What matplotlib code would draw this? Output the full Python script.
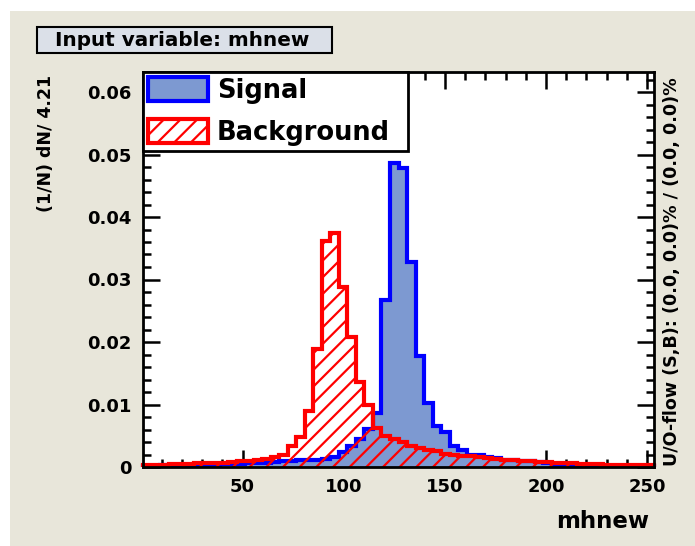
import numpy as np
import matplotlib.pyplot as plt
from matplotlib.patches import Patch, Rectangle

plt.rcParams['font.family'] = ['DejaVu Sans']
plt.rcParams['font.weight'] = 'bold'
plt.rcParams['hatch.linewidth'] = 1.6

# histogram binning (60 bins of width 4.21)
x_min = 0.8
bin_width = 4.21
n_bins = 60
edges = x_min + bin_width * np.arange(n_bins + 1)

signal = [
    0.0002, 0.0002, 0.0003, 0.0003, 0.0003, 0.0003, 0.0004, 0.0004, 0.0004, 0.0005,
    0.0005, 0.0005, 0.0006, 0.0006, 0.0007, 0.0008, 0.0009, 0.0010, 0.0011, 0.0011,
    0.0012, 0.0013, 0.0016, 0.0024, 0.0034, 0.0045, 0.0061, 0.0087, 0.0268, 0.0486,
    0.0479, 0.0328, 0.0178, 0.0102, 0.0065, 0.0056, 0.0034, 0.0027, 0.0020, 0.0019,
    0.0016, 0.0014, 0.0012, 0.0011, 0.0010, 0.0009, 0.0008, 0.0006, 0.0002, 0.0002,
    0.0001, 0.0001, 0.0002, 0.0001, 0.0001, 0.0002, 0.0001, 0.0001, 0.0002, 0.0001,
]

background = [
    0.0004, 0.0004, 0.0004, 0.0005, 0.0005, 0.0005, 0.0006, 0.0006, 0.0007, 0.0007,
    0.0008, 0.0009, 0.0010, 0.0011, 0.0013, 0.0016, 0.0020, 0.0033, 0.0048, 0.0090,
    0.0189, 0.0362, 0.0375, 0.0288, 0.0208, 0.0136, 0.0100, 0.0063, 0.0050, 0.0045,
    0.0040, 0.0034, 0.0031, 0.0027, 0.0025, 0.0021, 0.0019, 0.0018, 0.0017, 0.0016,
    0.0015, 0.0013, 0.0012, 0.0011, 0.0010, 0.0009, 0.0008, 0.0008, 0.0007, 0.0006,
    0.0006, 0.0005, 0.0005, 0.0005, 0.0004, 0.0004, 0.0004, 0.0003, 0.0003, 0.0003,
]

x_ticks = [50, 100, 150, 200, 250]
y_ticks = [0, 0.01, 0.02, 0.03, 0.04, 0.05, 0.06]
y_ticklabels = ['0', '0.01', '0.02', '0.03', '0.04', '0.05', '0.06']

beige = '#e8e6da'
sig_fill = '#7d99d1'
W, H = 695, 546

fig = plt.figure(figsize=(6.95, 5.46), dpi=100)
fig.patch.set_facecolor('white')
# canvas background (white strip at top and left)
fig.patches.append(Rectangle((10 / W, 0), 1, 1 - 11 / H, transform=fig.transFigure,
                             facecolor=beige, edgecolor='none', zorder=-10))

ax = fig.add_axes([143 / W, 1 - 467 / H, (654 - 143) / W, (467 - 72) / H])
ax.set_facecolor('white')

ax.stairs(signal, edges, fill=True, facecolor=sig_fill, edgecolor='none', zorder=2)
ax.stairs(signal, edges, color='#0000ff', linewidth=3.0, zorder=3, clip_on=False)
ax.stairs(background, edges, fill=True, facecolor='none', edgecolor='#ff0000',
          hatch='//', linewidth=0, zorder=4)
ax.stairs(background, edges, color='#ff0000', linewidth=3.0, zorder=5, clip_on=False)

ax.set_xlim(edges[0], edges[-1])
ax.set_ylim(0, 0.0632)
ax.set_xticks(x_ticks)
ax.set_xticks(np.arange(10, 255, 10), minor=True)
ax.set_yticks(y_ticks)
ax.set_yticklabels(y_ticklabels)
ax.set_yticks(np.arange(0, 0.063, 0.002), minor=True)
ax.tick_params(which='both', direction='in', top=True, right=True, width=1.8,
               labelsize=13, pad=8)
ax.tick_params(which='major', length=12)
ax.tick_params(which='minor', length=6)
for s in ax.spines.values():
    s.set_linewidth(2.0)
    s.set_zorder(6)

ax.set_xlabel('mhnew', fontsize=16.5, fontweight='bold')
ax.xaxis.set_label_coords(0.99, -0.11)
ax.xaxis.label.set_horizontalalignment('right')
ax.set_ylabel('(1/N) dN/ 4.21', fontsize=12.5, fontweight='bold')
ax.yaxis.set_label_coords(-0.172, 0.992)
ax.yaxis.label.set_horizontalalignment('right')

handles = [Patch(facecolor=sig_fill, edgecolor='#0000ff', linewidth=3.0, label='Signal'),
           Patch(facecolor='white', edgecolor='#ff0000', linewidth=3.0, hatch='//',
                 label='Background')]
leg = ax.legend(handles=handles, loc='upper left', bbox_to_anchor=(0, 1, 0.519, 0),
                mode='expand', borderaxespad=0, fancybox=False, frameon=True,
                prop={'size': 18.5, 'weight': 'bold'}, handlelength=2.33,
                handleheight=1.05, handletextpad=0.35, labelspacing=0.6,
                borderpad=0.2)
leg.get_frame().set_edgecolor('black')
leg.get_frame().set_linewidth(2.0)
leg.get_frame().set_alpha(1)
leg.set_zorder(10)

fig.text(672 / W, 1 - 466 / H, 'U/O-flow (S,B): (0.0, 0.0)% / (0.0, 0.0)%',
         rotation=90, fontsize=12.6, fontweight='bold', ha='center', va='bottom')

# title box
fig.patches.append(Rectangle((37 / W, 1 - 53 / H), (332 - 37) / W, 26 / H,
                             transform=fig.transFigure, facecolor='#dbe0e8',
                             edgecolor='black', linewidth=1.5, zorder=5))
fig.text(55 / W, 1 - 40 / H, 'Input variable: mhnew', fontsize=14.4,
         fontweight='bold', ha='left', va='center', zorder=6)

fig.savefig('out.png', dpi=100, facecolor=fig.get_facecolor())
